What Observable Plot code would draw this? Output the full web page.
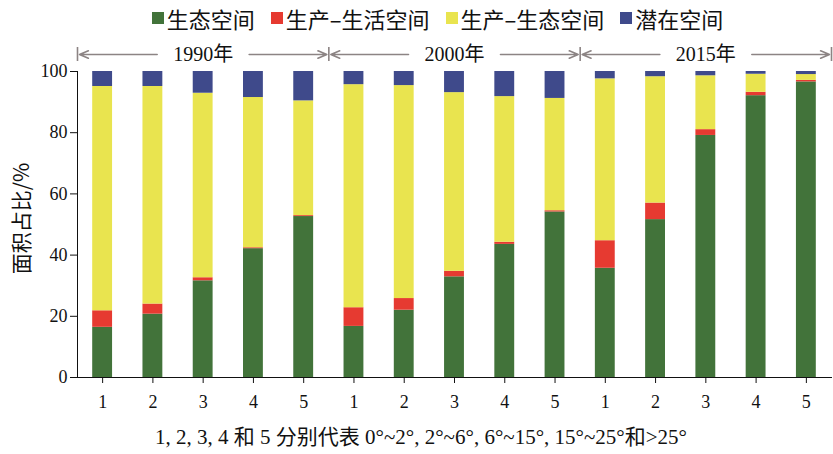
<!DOCTYPE html>
<html>
<head>
<meta charset="utf-8">
<script src="https://cdn.jsdelivr.net/npm/d3@7"></script>
<script src="https://cdn.jsdelivr.net/npm/@observablehq/plot@0.6"></script>
<style>
  body { margin: 0; background: #fff; width: 833px; height: 454px; overflow: hidden; color: #111;
         font-family: "Liberation Serif", "Noto Sans CJK SC", serif; }
  #legend { height: 30px; box-sizing: border-box; padding-top: 5px; padding-left: 42px;
            display: flex; justify-content: center; align-items: center;
            font-family: "Noto Sans CJK SC", sans-serif; font-size: 22px; line-height: 1; }
  .item { display: flex; align-items: center; margin: 0 8px; }
  .sw { width: 12px; height: 12px; margin-right: 3px; }
  #caption { height: 34px; line-height: 34px; text-align: center; font-size: 21px; padding-left: 9px; }
  #chart svg { overflow: visible; }
</style>
</head>
<body>
<div id="legend"></div>
<div id="chart"></div>
<div id="caption"></div>
<script>
// ---- data ----
const years = ["1990年", "2000年", "2015年"];
const slopes = ["1", "2", "3", "4", "5"];
const categories = ["生态空间", "生产–生活空间", "生产–生态空间", "潜在空间"];
const colors = ["#42733a", "#e63a31", "#e9e44f", "#3f4a8b"];
const yTicks = [0, 20, 40, 60, 80, 100];
// values (%) per bar: 1990 slopes 1-5, 2000 slopes 1-5, 2015 slopes 1-5
const ecological = [16.4, 20.7, 31.6, 42.1, 52.6, 16.7, 22.0, 32.9, 43.5, 54.1, 35.7, 51.6, 79.1, 92.1, 96.6];
const prodLiving = [5.4, 3.3, 1.0, 0.3, 0.3, 6.1, 3.8, 1.8, 0.7, 0.4, 9.0, 5.4, 1.9, 1.1, 0.5];
const prodEco    = [73.3, 71.1, 60.3, 49.1, 37.5, 72.9, 69.6, 58.4, 47.6, 36.7, 52.9, 41.3, 17.6, 5.9, 1.9];
const potential  = [4.9, 4.9, 7.1, 8.5, 9.6, 4.3, 4.6, 6.9, 8.2, 8.8, 2.4, 1.7, 1.4, 0.9, 1.0];
const captionText = "1, 2, 3, 4 和 5 分别代表 0°~2°, 2°~6°, 6°~15°, 15°~25°和>25°";
const yLabel = "面积占比/%";

// ---- build tables ----
const series = [ecological, prodLiving, prodEco, potential];
const n = slopes.length;
const table = [];
years.forEach((yr, yi) => slopes.forEach((s, si) => {
  const idx = yi * n + si;
  categories.forEach((c, ci) => table.push({year: yr, slope: s, idx, category: c, value: series[ci][idx]}));
}));
const groups = years.map((yr, yi) => ({year: yr, start: yi * n, mid: yi * n + n / 2, end: (yi + 1) * n}));
const boundaries = d3.range(years.length + 1).map(i => i * n);
const tickPositions = d3.range(years.length * n).map(i => i + 0.5);
const yMax = yTicks[yTicks.length - 1];
const grey = "#8c8484";
const arrowDy = -17;

// ---- legend ----
const legend = document.getElementById("legend");
categories.forEach((c, i) => {
  const it = document.createElement("span");
  it.className = "item";
  it.innerHTML = `<span class="sw" style="background:${colors[i]}"></span><span>${c}</span>`;
  legend.appendChild(it);
});
document.getElementById("caption").textContent = captionText;

// ---- chart ----
const chart = Plot.plot({
  width: 833,
  height: 390,
  marginTop: 41,
  marginBottom: 43,
  marginLeft: 77,
  marginRight: 2,
  style: {fontFamily: '"Liberation Serif", "Noto Sans CJK SC", serif', fontSize: "18px", color: "#111", background: "transparent", overflow: "visible"},
  x: {domain: [0, years.length * n], ticks: tickPositions, tickFormat: d => slopes[Math.round(d - 0.5) % n],
      tickSize: 6, tickPadding: 12, line: true, label: null},
  y: {domain: [0, yMax], ticks: yTicks, tickSize: 7, tickPadding: 3, line: true, label: null},
  color: {domain: categories, range: colors},
  marks: [
    Plot.rectY(table, {x: "idx", interval: 1, y: "value", fill: "category", order: categories,
                       insetLeft: 15.2, insetRight: 15.2}),
    Plot.arrow(groups, {x1: "mid", x2: "start", y1: () => yMax, y2: () => yMax, dy: arrowDy,
                        insetStart: 46, insetEnd: 2, stroke: grey, strokeWidth: 1.6, headLength: 9, headAngle: 45}),
    Plot.arrow(groups, {x1: "mid", x2: "end", y1: () => yMax, y2: () => yMax, dy: arrowDy,
                        insetStart: 46, insetEnd: 2, stroke: grey, strokeWidth: 1.6, headLength: 9, headAngle: 45}),
    Plot.ruleX(boundaries, {x: d => d, y1: () => yMax, y2: () => yMax, dy: arrowDy, insetTop: -7, insetBottom: -7,
                            stroke: grey, strokeWidth: 1.6}),
    Plot.text(groups, {x: "mid", y: () => yMax, dy: arrowDy, text: "year", fontSize: 20}),
    Plot.text([yLabel], {frameAnchor: "left", textAnchor: "middle", lineAnchor: "middle", rotate: -90,
                         dx: -55, dy: -6, fontSize: 21, fontFamily: '"Noto Sans CJK SC", sans-serif'})
  ]
});
document.getElementById("chart").appendChild(chart);
</script>
</body>
</html>
